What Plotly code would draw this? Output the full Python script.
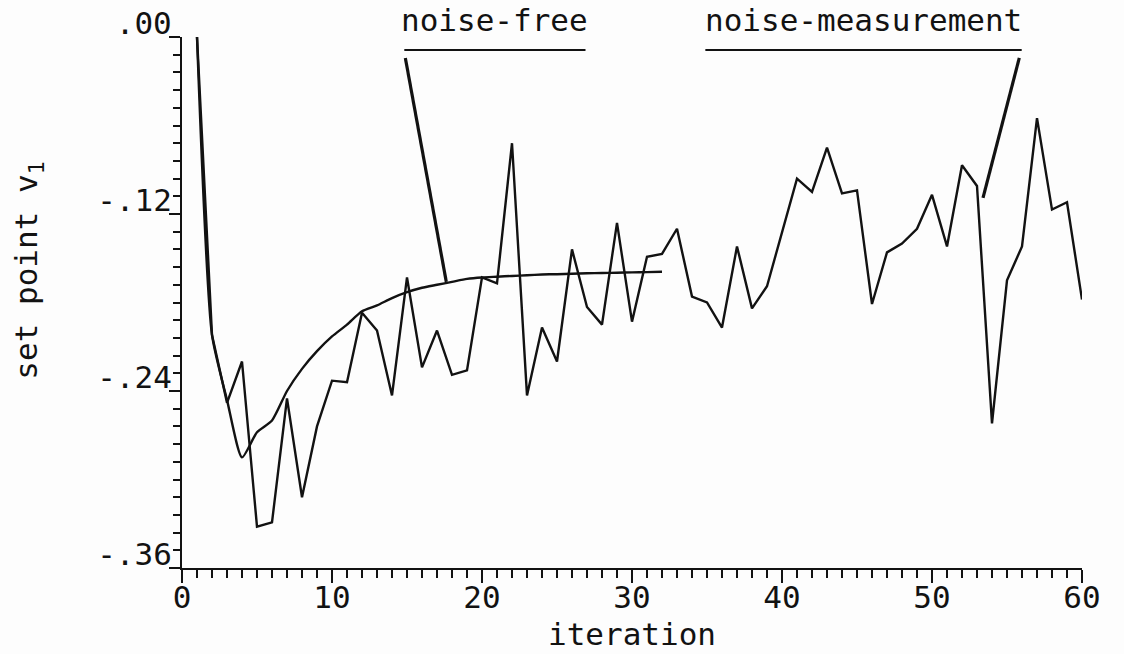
import plotly.graph_objects as go

# iteration index and the two set-point histories
iterations = list(range(1, 61))
noise_measurement = [
    0.000, -0.202, -0.248, -0.220, -0.332, -0.329, -0.245, -0.312, -0.264, -0.233,
    -0.234, -0.187, -0.199, -0.243, -0.163, -0.224, -0.199, -0.229, -0.226, -0.163,
    -0.167, -0.072, -0.243, -0.197, -0.220, -0.144, -0.183, -0.195, -0.126, -0.193,
    -0.149, -0.147, -0.130, -0.176, -0.180, -0.197, -0.142, -0.184, -0.169, -0.132,
    -0.096, -0.105, -0.075, -0.106, -0.104, -0.181, -0.146, -0.140, -0.130, -0.107,
    -0.142, -0.087, -0.101, -0.262, -0.165, -0.142, -0.055, -0.117, -0.112, -0.178,
]
noise_free_iterations = list(range(1, 33))
noise_free = [
    0.000, -0.202, -0.246, -0.285, -0.268, -0.260, -0.240, -0.225, -0.213, -0.203,
    -0.195, -0.186, -0.182, -0.177, -0.173, -0.170, -0.168, -0.166, -0.164, -0.163,
    -0.1625, -0.162, -0.1615, -0.161, -0.1608, -0.1605, -0.1602, -0.160, -0.1598,
    -0.1596, -0.1594, -0.1592,
]

y_tick_values = [0.0, -0.12, -0.24, -0.36]
y_tick_labels = [".00", "-.12", "-.24", "-.36"]
x_tick_values = [0, 10, 20, 30, 40, 50, 60]
x_tick_labels = ["0", "10", "20", "30", "40", "50", "60"]

INK = "#121212"
FONT = "DejaVu Sans Mono"
SIZE = 31

fig = go.Figure()
fig.add_trace(go.Scatter(x=iterations, y=noise_measurement, mode="lines",
                         line=dict(color=INK, width=2.4), showlegend=False))
fig.add_trace(go.Scatter(x=noise_free_iterations, y=noise_free, mode="lines",
                         line=dict(color=INK, width=2.4, shape="spline", smoothing=0.6),
                         showlegend=False))

# labels with underline and a pointer line to their curve
labels = [
    dict(text="noise-free", x0=14.82, x1=26.9, tip_from=(14.89, -0.0142), tip_to=(17.62, -0.166)),
    dict(text="noise-measurement", x0=34.89, x1=55.98, tip_from=(55.82, -0.0142), tip_to=(53.4, -0.109)),
]
for lab in labels:
    fig.add_annotation(x=(lab["x0"] + lab["x1"]) / 2, y=0.0, xref="x", yref="y",
                       text=lab["text"], showarrow=False, yanchor="bottom", yshift=-3,
                       font=dict(family=FONT, size=SIZE, color=INK))
    fig.add_shape(type="line", x0=lab["x0"], x1=lab["x1"], y0=-0.0088, y1=-0.0088,
                  xref="x", yref="y", line=dict(color=INK, width=2))
    fig.add_shape(type="line", x0=lab["tip_from"][0], y0=lab["tip_from"][1],
                  x1=lab["tip_to"][0], y1=lab["tip_to"][1],
                  xref="x", yref="y", line=dict(color=INK, width=3.2))

fig.add_annotation(x=-0.17, y=0.56, xref="paper", yref="paper",
                   xanchor="center", yanchor="middle",
                   text="set point v<sub>1</sub>", textangle=-90, showarrow=False,
                   font=dict(family=FONT, size=SIZE, color=INK))
fig.add_annotation(x=0.5, y=-0.124, xref="paper", yref="paper", text="iteration",
                   xanchor="center", yanchor="middle",
                   showarrow=False, font=dict(family=FONT, size=SIZE, color=INK))

fig.update_xaxes(range=[0, 60], tickmode="array", tickvals=x_tick_values,
                 ticktext=x_tick_labels, ticks="outside", ticklen=13, tickwidth=2,
                 tickcolor=INK, showline=True, linecolor=INK, linewidth=2,
                 showgrid=False, zeroline=False, ticklabelstandoff=-12,
                 automargin=False,
                 tickfont=dict(family=FONT, size=SIZE, color=INK),
                 minor=dict(tickmode="linear", tick0=0, dtick=1, ticks="outside",
                            ticklen=8, tickwidth=1.5, tickcolor=INK, showgrid=False))
fig.update_yaxes(range=[-0.36, 0], tickmode="array", tickvals=y_tick_values,
                 ticktext=y_tick_labels, ticks="outside", ticklen=11, tickwidth=2,
                 tickcolor=INK, showline=True, linecolor=INK, linewidth=2,
                 showgrid=False, zeroline=False, ticklabelshift=-14,
                 ticklabelstandoff=-9, automargin=False,
                 tickfont=dict(family=FONT, size=SIZE, color=INK),
                 minor=dict(tickmode="linear", tick0=0, dtick=0.012, ticks="outside",
                            ticklen=7, tickwidth=1.5, tickcolor=INK, showgrid=False))

fig.update_layout(width=1124, height=654,
                  margin=dict(l=182, r=42, t=37, b=86),
                  paper_bgcolor="#fdfdfd", plot_bgcolor="#fdfdfd")

fig.write_html("out.html")
